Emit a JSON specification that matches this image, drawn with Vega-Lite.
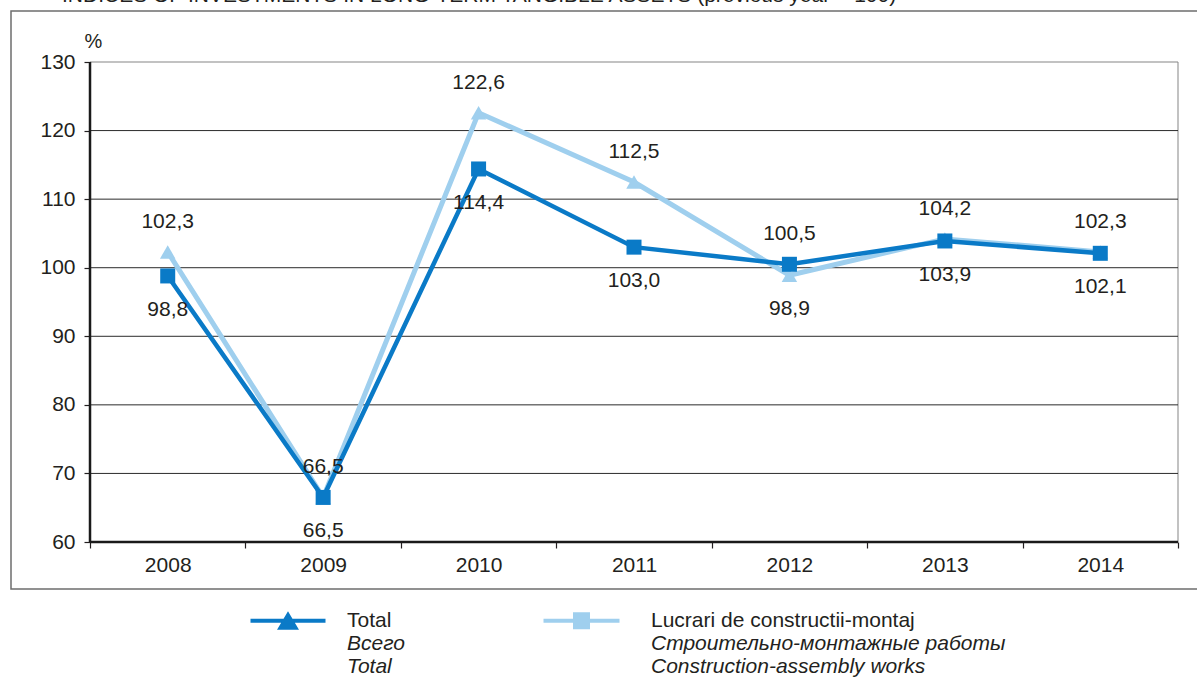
{
  "$schema": "https://vega.github.io/schema/vega-lite/v6.json",
  "width": 1200,
  "height": 578,
  "autosize": {"type": "none"},
  "padding": {"left": 11, "top": 11, "right": 0, "bottom": 88},
  "background": "#ffffff",
  "title": {
    "text": "INDICES OF INVESTMENTS IN LONG-TERM TANGIBLE ASSETS (previous year = 100)",
    "anchor": "start", "orient": "top", "frame": "group",
    "dx": 51, "offset": 5, "fontSize": 21, "fontWeight": "normal", "color": "#231f20"
  },
  "config": {
    "font": "Liberation Sans",
    "view": {"fill": "#dcdcdc", "stroke": "#6e6e6e", "strokeWidth": 1.5}
  },
  "data": {
    "values": [
      {"year": 2008, "series": "Total", "value": 98.8},
      {"year": 2009, "series": "Total", "value": 66.5},
      {"year": 2010, "series": "Total", "value": 114.4},
      {"year": 2011, "series": "Total", "value": 103.0},
      {"year": 2012, "series": "Total", "value": 100.5},
      {"year": 2013, "series": "Total", "value": 103.9},
      {"year": 2014, "series": "Total", "value": 102.1},
      {"year": 2008, "series": "Lucrari de constructii-montaj", "value": 102.3},
      {"year": 2009, "series": "Lucrari de constructii-montaj", "value": 66.5},
      {"year": 2010, "series": "Lucrari de constructii-montaj", "value": 122.6},
      {"year": 2011, "series": "Lucrari de constructii-montaj", "value": 112.5},
      {"year": 2012, "series": "Lucrari de constructii-montaj", "value": 98.9},
      {"year": 2013, "series": "Lucrari de constructii-montaj", "value": 104.2},
      {"year": 2014, "series": "Lucrari de constructii-montaj", "value": 102.3}
    ]
  },
  "layer": [
    {
      "data": {"values": [{}]},
      "mark": {"type": "rect", "fill": "#ffffff", "stroke": "#858585", "strokeWidth": 1},
      "encoding": {
        "x": {
          "datum": 2007.5, "type": "quantitative",
          "scale": {"domain": [2006.9917, 2014.7123], "nice": false, "zero": false},
          "axis": {
            "values": [2007.5, 2008.5, 2009.5, 2010.5, 2011.5, 2012.5, 2013.5, 2014.5],
            "labelExpr": "datum.value < 2014 ? format(datum.value + 0.5, 'd') : ''",
            "labelOffset": 77.7, "domain": false, "grid": false, "ticks": true,
            "tickSize": 6, "tickColor": "#231f20", "tickWidth": 1.2,
            "labelFontSize": 21, "labelColor": "#231f20", "labelPadding": 6,
            "title": null, "offset": -47, "labelFlush": false, "labelOverlap": false, "labelBound": false
          }
        },
        "x2": {"datum": 2014.5},
        "y": {
          "datum": 60, "type": "quantitative",
          "scale": {"domain": [53.146, 137.4375], "nice": false, "zero": false},
          "axis": {
            "values": [60, 70, 80, 90, 100, 110, 120, 130],
            "format": "d", "domain": false, "grid": false,
            "tickSize": 6, "tickColor": "#231f20", "tickWidth": 1.2,
            "labelFontSize": 21, "labelColor": "#231f20", "labelPadding": 9,
            "offset": -79, "labelFlush": false, "labelOverlap": false,
            "title": "%", "titleAngle": 0, "titleX": 3, "titleY": 36,
            "titleAlign": "center", "titleBaseline": "alphabetic",
            "titleFontSize": 20, "titleFontWeight": "normal", "titleColor": "#231f20"
          }
        },
        "y2": {"datum": 130}
      }
    },
    {
      "data": {"values": [{"g": 70}, {"g": 80}, {"g": 90}, {"g": 100}, {"g": 110}, {"g": 120}]},
      "mark": {"type": "rule", "color": "#2b2b2b", "strokeWidth": 1},
      "encoding": {
        "y": {"field": "g", "type": "quantitative", "scale": {"domain": [53.146, 137.4375], "nice": false, "zero": false}},
        "x": {"datum": 2007.5, "type": "quantitative", "scale": {"domain": [2006.9917, 2014.7123], "nice": false, "zero": false}},
        "x2": {"datum": 2014.5}
      }
    },
    {
      "data": {"values": [{}]},
      "mark": {"type": "rule", "color": "#1a1a1a", "strokeWidth": 2.5},
      "encoding": {
        "x": {"datum": 2007.5, "type": "quantitative", "scale": {"domain": [2006.9917, 2014.7123], "nice": false, "zero": false}},
        "y": {"datum": 60, "type": "quantitative", "scale": {"domain": [53.146, 137.4375], "nice": false, "zero": false}},
        "y2": {"datum": 130}
      }
    },
    {
      "data": {"values": [{}]},
      "mark": {"type": "rule", "color": "#1a1a1a", "strokeWidth": 2.5},
      "encoding": {
        "x": {"datum": 2007.5, "type": "quantitative", "scale": {"domain": [2006.9917, 2014.7123], "nice": false, "zero": false}},
        "x2": {"datum": 2014.5},
        "y": {"datum": 60, "type": "quantitative", "scale": {"domain": [53.146, 137.4375], "nice": false, "zero": false}}
      }
    },
    {
      "transform": [{"filter": "datum.series != 'Total'"}],
      "mark": {"type": "line", "color": "#9fcfee", "strokeWidth": 5},
      "encoding": {
        "x": {"field": "year", "type": "quantitative", "scale": {"domain": [2006.9917, 2014.7123], "nice": false, "zero": false}},
        "y": {"field": "value", "type": "quantitative", "scale": {"domain": [53.146, 137.4375], "nice": false, "zero": false}}
      }
    },
    {
      "transform": [{"filter": "datum.series != 'Total'"}],
      "mark": {"type": "point", "shape": "triangle-up", "filled": true, "color": "#9fcfee", "opacity": 1, "size": 240},
      "encoding": {
        "x": {"field": "year", "type": "quantitative", "scale": {"domain": [2006.9917, 2014.7123], "nice": false, "zero": false}},
        "y": {"field": "value", "type": "quantitative", "scale": {"domain": [53.146, 137.4375], "nice": false, "zero": false}}
      }
    },
    {
      "transform": [{"filter": "datum.series == 'Total'"}],
      "mark": {"type": "line", "color": "#0a7ac7", "strokeWidth": 4.5},
      "encoding": {
        "x": {"field": "year", "type": "quantitative", "scale": {"domain": [2006.9917, 2014.7123], "nice": false, "zero": false}},
        "y": {"field": "value", "type": "quantitative", "scale": {"domain": [53.146, 137.4375], "nice": false, "zero": false}}
      }
    },
    {
      "transform": [{"filter": "datum.series == 'Total'"}],
      "mark": {"type": "point", "shape": "square", "filled": true, "color": "#0a7ac7", "opacity": 1, "size": 225},
      "encoding": {
        "x": {"field": "year", "type": "quantitative", "scale": {"domain": [2006.9917, 2014.7123], "nice": false, "zero": false}},
        "y": {"field": "value", "type": "quantitative", "scale": {"domain": [53.146, 137.4375], "nice": false, "zero": false}}
      }
    },
    {
      "transform": [
        {"joinaggregate": [{"op": "max", "field": "value", "as": "maxv"}, {"op": "min", "field": "value", "as": "minv"}], "groupby": ["year"]},
        {"filter": "datum.value > datum.minv || (datum.maxv == datum.minv && datum.series != 'Total')"},
        {"calculate": "replace(format(datum.value, '.1f'), '.', ',')", "as": "lbl"}
      ],
      "mark": {"type": "text", "fontSize": 21, "color": "#231f20", "dy": -30, "baseline": "middle"},
      "encoding": {
        "x": {"field": "year", "type": "quantitative", "scale": {"domain": [2006.9917, 2014.7123], "nice": false, "zero": false}},
        "y": {"field": "value", "type": "quantitative", "scale": {"domain": [53.146, 137.4375], "nice": false, "zero": false}},
        "text": {"field": "lbl", "type": "nominal"}
      }
    },
    {
      "transform": [
        {"joinaggregate": [{"op": "max", "field": "value", "as": "maxv"}, {"op": "min", "field": "value", "as": "minv"}], "groupby": ["year"]},
        {"filter": "!(datum.value > datum.minv || (datum.maxv == datum.minv && datum.series != 'Total'))"},
        {"calculate": "replace(format(datum.value, '.1f'), '.', ',')", "as": "lbl"}
      ],
      "mark": {"type": "text", "fontSize": 21, "color": "#231f20", "dy": 34, "baseline": "middle"},
      "encoding": {
        "x": {"field": "year", "type": "quantitative", "scale": {"domain": [2006.9917, 2014.7123], "nice": false, "zero": false}},
        "y": {"field": "value", "type": "quantitative", "scale": {"domain": [53.146, 137.4375], "nice": false, "zero": false}},
        "text": {"field": "lbl", "type": "nominal"}
      }
    },
    {
      "transform": [{"filter": "false"}],
      "mark": {"type": "point", "filled": true, "opacity": 1},
      "encoding": {
        "fill": {
          "field": "series", "type": "nominal",
          "scale": {
            "domain": ["Total", "Lucrari de constructii-montaj", "Всего|Total", "Строительно-монтажные работы|Construction-assembly works"],
            "range": ["#0a7ac7", "#9fcfee", "transparent", "transparent"]
          },
          "legend": {
            "orient": "none", "legendX": 239, "legendY": 599, "direction": "horizontal", "columns": 2,
            "title": null, "symbolSize": 400, "symbolStrokeWidth": 0, "labelOffset": 76,
            "columnPadding": 138, "rowPadding": 1, "padding": 0,
            "labelFontSize": 21, "labelColor": "#231f20", "labelLimit": 600,
            "labelFontStyle": {"expr": "datum.index >= 2 ? 'italic' : 'normal'"},
            "labelExpr": "split(datum.label, '|')"
          }
        },
        "shape": {
          "field": "series", "type": "nominal",
          "scale": {
            "domain": ["Total", "Lucrari de constructii-montaj", "Всего|Total", "Строительно-монтажные работы|Construction-assembly works"],
            "range": [
              "M-1,-0.2H6.5V0.2H-1Z M2.75,-0.95L3.85,0.9H1.65Z",
              "M-2.1,-0.2H5.5V0.2H-2.1Z M0.85,-0.85H2.55V0.85H0.85Z",
              "M-1,0H6.5",
              "M-2.1,0H5.5"
            ]
          },
          "legend": {
            "orient": "none", "legendX": 239, "legendY": 599, "direction": "horizontal", "columns": 2,
            "title": null, "symbolSize": 400, "symbolStrokeWidth": 0, "labelOffset": 76,
            "columnPadding": 138, "rowPadding": 1, "padding": 0,
            "labelFontSize": 21, "labelColor": "#231f20", "labelLimit": 600,
            "labelFontStyle": {"expr": "datum.index >= 2 ? 'italic' : 'normal'"},
            "labelExpr": "split(datum.label, '|')"
          }
        }
      }
    }
  ]
}
